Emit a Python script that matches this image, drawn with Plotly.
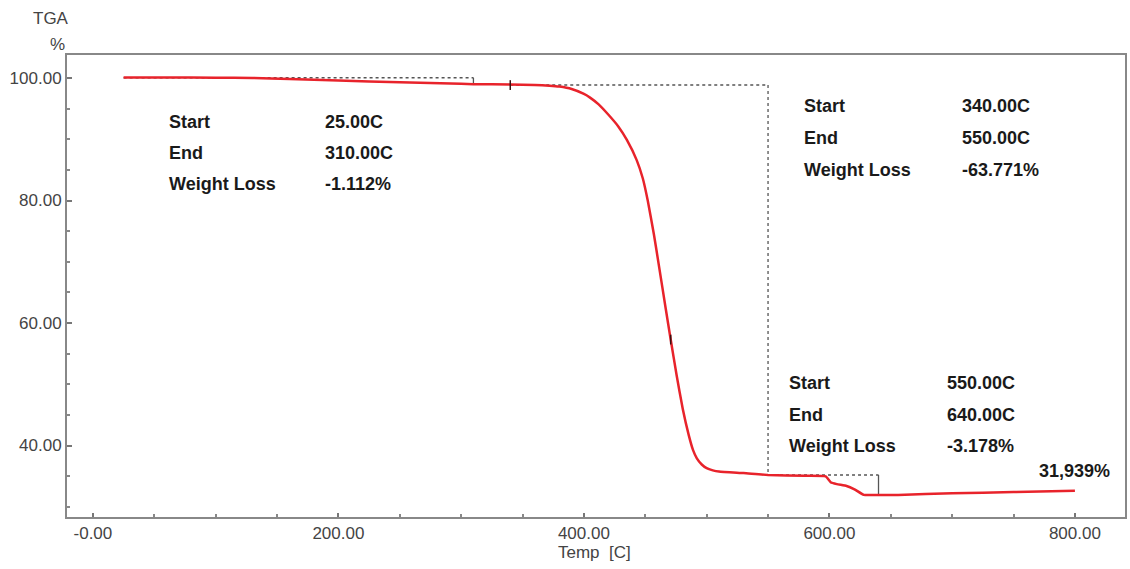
import plotly.graph_objects as go

# ---- data ----
temp_c = [25, 60, 100, 130, 160, 200, 250, 300, 310, 340, 360, 372, 380, 390, 400, 405,
          412, 420, 428, 435, 443, 448, 452, 457, 461, 466.7, 470.7, 475.6, 480.5,
          485.4, 489, 492, 496, 500, 505, 510, 530, 550, 580, 597, 601, 606, 614,
          620, 628, 640, 656, 700, 750, 800]
weight_pct = [100.1, 100.08, 100.05, 100.0, 99.85, 99.6, 99.3, 99.05, 99.0, 98.95, 98.85,
              98.75, 98.6, 98.2, 97.4, 96.8, 95.7, 94.0, 92.1, 89.9, 86.6, 83.6, 80.0,
              74.5, 69.5, 62.3, 57.3, 51.4, 46.0, 41.7, 39.2, 37.9, 36.9, 36.3, 35.95,
              35.75, 35.5, 35.2, 35.05, 34.95, 34.0, 33.7, 33.4, 32.9, 31.94, 31.94,
              31.94, 32.2, 32.4, 32.6]

steps = [  # start, end, start weight, end weight
    (25, 310, 100.05, 98.95),
    (340, 550, 98.85, 35.2),
    (550, 640, 35.2, 31.94),
]
step_labels = [
    ("25.00C", "310.00C", "-1.112%"),
    ("340.00C", "550.00C", "-63.771%"),
    ("550.00C", "640.00C", "-3.178%"),
]
residue_label = "31,939%"
mid_point = (470.7, 57.3)

x_ticks = [0, 200, 400, 600, 800]
x_ticktext = ["-0.00", "200.00", "400.00", "600.00", "800.00"]
y_ticks = [40, 60, 80, 100]
y_ticktext = ["40.00", "60.00", "80.00", "100.00"]

# ---- layout geometry (pixels) ----
W, H = 1130, 569
L, R, T, B = 67, 1127, 55, 517

fig = go.Figure()

dot_col = "#555555"
for i, (s, e, ws, we) in enumerate(steps):
    fig.add_trace(go.Scatter(x=[s, e], y=[ws, ws], mode="lines",
                             line=dict(color=dot_col, width=1.5, dash="dot"),
                             hoverinfo="skip", showlegend=False))
    fig.add_trace(go.Scatter(x=[e, e], y=[ws, we], mode="lines",
                             line=dict(color=dot_col, width=1.3,
                                       dash="dot" if i == 1 else "solid"),
                             hoverinfo="skip", showlegend=False))

fig.add_trace(go.Scatter(x=temp_c, y=weight_pct, mode="lines",
                         line=dict(color="#e8232b", width=2.5, shape="spline", smoothing=0.4),
                         showlegend=False))

fig.add_trace(go.Scatter(x=[mid_point[0], steps[1][0]], y=[mid_point[1], steps[1][2]],
                         mode="markers",
                         marker=dict(symbol="line-ns", size=7,
                                     line=dict(color="#3a1010", width=1.5)),
                         hoverinfo="skip", showlegend=False))

def px2x(px):
    return -21.1 + (px - L) / (R - L) * (840.8 + 21.1)

def py2y(py):
    return 103.76 - (py - T) / (B - T) * (103.76 - 28.33)

groups = [(167, 323, [122, 153, 184]),
          (803, 962, [106, 138, 170]),
          (788, 947, [383, 415, 446])]
names = ["Start", "End", "Weight Loss"]
afont = dict(family="Liberation Sans, Arial", size=18, color="#1a1a1a")
ann = []
for (lx, vx, rows), vals in zip(groups, step_labels):
    for name, val, ry in zip(names, vals, rows):
        ann.append(dict(x=px2x(lx), y=py2y(ry), xref="x", yref="y", text="<b>%s</b>" % name,
                        showarrow=False, xanchor="left", yanchor="middle", font=afont))
        ann.append(dict(x=px2x(vx), y=py2y(ry), xref="x", yref="y", text="<b>%s</b>" % val,
                        showarrow=False, xanchor="left", yanchor="middle", font=afont))
ann.append(dict(x=px2x(1114), y=py2y(471), xref="x", yref="y", text="<b>%s</b>" % residue_label,
                showarrow=False, xanchor="right", yanchor="middle", font=afont))

tfont = dict(family="Liberation Sans, Arial", size=17, color="#444444")
ann.append(dict(x=(51 - L) / (R - L), y=(B - 19) / (B - T), xref="paper", yref="paper",
                text="TGA", showarrow=False, xanchor="center", yanchor="middle", font=tfont))
ann.append(dict(x=(57 - L) / (R - L), y=(B - 45) / (B - T), xref="paper", yref="paper",
                text="%", showarrow=False, xanchor="center", yanchor="middle", font=tfont))
ann.append(dict(x=(557 - L) / (R - L), y=(B - 552) / (B - T), xref="paper", yref="paper",
                text="Temp\u00a0\u00a0[C]", showarrow=False, xanchor="left", yanchor="middle",
                font=tfont))

fig.update_layout(
    width=W, height=H,
    margin=dict(l=L, r=W - R, t=T, b=H - B),
    paper_bgcolor="white", plot_bgcolor="white",
    annotations=ann,
    xaxis=dict(range=[-21.1, 840.8], tickvals=x_ticks, ticktext=x_ticktext,
               ticks="inside", ticklen=4, tickwidth=1.5, tickcolor="#777",
               showgrid=False, zeroline=False,
               showline=True, linecolor="#888", linewidth=2, mirror=True,
               tickfont=tfont,
               minor=dict(dtick=50, tick0=0, ticks="inside", ticklen=3, tickcolor="#888")),
    yaxis=dict(range=[28.33, 103.76], tickvals=y_ticks, ticktext=y_ticktext,
               ticks="inside", ticklen=5, tickwidth=1.5, tickcolor="#777",
               showgrid=False, zeroline=False,
               showline=True, linecolor="#888", linewidth=2, mirror=True,
               tickfont=tfont,
               minor=dict(dtick=5, tick0=0, ticks="inside", ticklen=3, tickcolor="#888")),
)

fig.write_html("out.html", config={"displayModeBar": False},
               post_script="document.body.style.margin='0';document.body.style.overflow='hidden';")
